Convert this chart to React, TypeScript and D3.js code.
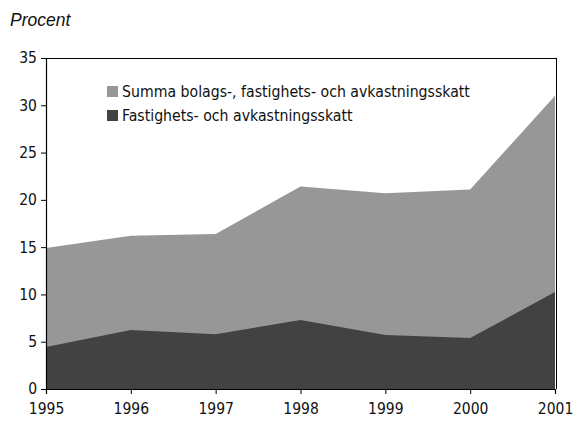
import * as d3 from "d3";
import { useEffect, useRef } from "react";

// data
const years = [1995, 1996, 1997, 1998, 1999, 2000, 2001];
const totalTax = [14.9, 16.2, 16.4, 21.4, 20.7, 21.1, 31.0];
const propertyTax = [4.45, 6.25, 5.8, 7.3, 5.7, 5.4, 10.25];
const yTicks = [0, 5, 10, 15, 20, 25, 30, 35];
const legendLabels = [
  "Summa bolags-, fastighets- och avkastningsskatt",
  "Fastighets- och avkastningsskatt",
];
const colors = ["#979797", "#424242"];

const W = 574;
const H = 421;
const FONT = "'Liberation Sans Narrow', 'DejaVu Sans Condensed', 'Roboto Condensed', sans-serif";

export default function App() {
  const ref = useRef<SVGSVGElement>(null);

  useEffect(() => {
    const svg = d3.select(ref.current);
    svg.selectAll("*").remove();

    const margin = { top: 58, right: 17, bottom: 32, left: 46 };
    const width = W - margin.left - margin.right;
    const height = H - margin.top - margin.bottom;

    const x = d3.scaleLinear().domain([1995, 2001]).range([0, width - 2]);
    const y = d3.scaleLinear().domain([0, 35]).range([height, 0]);

    const g = svg.append("g").attr("transform", `translate(${margin.left},${margin.top})`);

    // areas: total behind, property tax in front
    const series = [totalTax, propertyTax];
    series.forEach((vals, i) => {
      const area = d3
        .area<number>()
        .x((_, j) => x(years[j]))
        .y0(y(0))
        .y1((d) => y(d));
      g.append("path").attr("d", area(vals)).attr("fill", colors[i]);
    });

    // frame (top and right)
    g.append("line")
      .attr("x1", 0).attr("x2", width)
      .attr("y1", 0.5).attr("y2", 0.5)
      .attr("stroke", "#000").attr("stroke-width", 1);
    g.append("line")
      .attr("x1", width - 0.5).attr("x2", width - 0.5)
      .attr("y1", 0).attr("y2", height)
      .attr("stroke", "#000").attr("stroke-width", 1);

    // y axis
    const yAxis = g.append("g").call(d3.axisLeft(y).tickValues(yTicks).tickSize(5).tickPadding(4));
    yAxis.select(".domain").attr("stroke-width", 1.2);
    yAxis.selectAll("text").attr("font-family", FONT).attr("font-size", 15.5).attr("fill", "#111");

    // x axis
    const xAxis = g
      .append("g")
      .attr("transform", `translate(0,${height})`)
      .call(d3.axisBottom(x).tickValues(years).tickFormat(d3.format("d")).tickSize(5).tickPadding(9));
    xAxis.select(".domain").attr("stroke-width", 1.2);
    xAxis.selectAll("text").attr("font-family", FONT).attr("font-size", 15.5).attr("fill", "#111");

    // legend
    const legend = g.append("g").attr("transform", "translate(61,28)");
    legendLabels.forEach((lab, i) => {
      const row = legend.append("g").attr("transform", `translate(0,${i * 24})`);
      row.append("rect").attr("x", 0).attr("y", 0).attr("width", 11).attr("height", 11).attr("fill", colors[i]);
      row
        .append("text")
        .attr("x", 15)
        .attr("y", 11)
        .attr("font-family", FONT)
        .attr("font-size", 15.7)
        .attr("fill", "#111")
        .text(lab);
    });

    // unit label
    svg
      .append("text")
      .attr("x", 10)
      .attr("y", 26)
      .attr("font-family", "'Liberation Sans', Arial, sans-serif")
      .attr("font-style", "italic")
      .attr("font-size", 17.5)
      .attr("fill", "#111")
      .text("Procent");
  }, []);

  return (
    <svg
      ref={ref}
      width={W}
      height={H}
      style={{ position: "absolute", left: 0, top: 0, background: "#fff" }}
    />
  );
}
